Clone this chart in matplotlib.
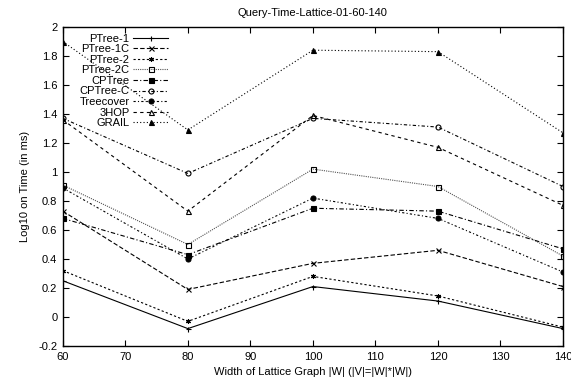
import matplotlib
matplotlib.use("Agg")
import matplotlib.pyplot as plt

plt.rcParams['font.family'] = ['Liberation Sans', 'DejaVu Sans']

widths = [60, 80, 100, 120, 140]

ptree_1 = [0.25, -0.08, 0.21, 0.11, -0.08]
ptree_1c = [0.73, 0.19, 0.37, 0.46, 0.21]
ptree_2 = [0.32, -0.03, 0.28, 0.145, -0.07]
ptree_2c = [0.91, 0.50, 1.02, 0.90, 0.42]
cptree = [0.68, 0.43, 0.75, 0.73, 0.47]
cptree_c = [1.37, 0.99, 1.37, 1.31, 0.90]
treecover = [0.89, 0.40, 0.82, 0.68, 0.31]
hop3 = [1.36, 0.73, 1.39, 1.17, 0.77]
grail = [1.90, 1.29, 1.84, 1.83, 1.27]

# label, values, linestyle, marker, line colour, marker face
series = [
    ('PTree-1', ptree_1, '-', '+', 'k', 'k'),
    ('PTree-1C', ptree_1c, (0, (4, 2)), 'x', 'k', 'k'),
    ('PTree-2', ptree_2, (0, (2, 2)), (6, 2, 0), 'k', 'k'),
    ('PTree-2C', ptree_2c, (0, (1, 1)), 's', '#555555', 'none'),
    ('CPTree', cptree, (0, (4, 2, 1, 2)), 's', 'k', 'k'),
    ('CPTree-C', cptree_c, (0, (3, 2, 1, 2)), 'o', 'k', 'none'),
    ('Treecover', treecover, (0, (2, 2, 1, 2)), 'o', 'k', 'k'),
    ('3HOP', hop3, (0, (3, 3)), '^', 'k', 'none'),
    ('GRAIL', grail, (0, (1, 2)), '^', 'k', 'k'),
]

fig = plt.figure(figsize=(5.71, 3.83), dpi=100)
ax = fig.add_axes([0.110, 0.0966, 0.876, 0.8329])

for label, vals, ls, mk, col, mfc in series:
    ax.plot(widths, vals, linestyle=ls, marker=mk, color=col,
            markerfacecolor=mfc, markeredgecolor='k',
            markersize=3.6, markeredgewidth=0.8, linewidth=0.8, label=label)

ax.set_xlim(60, 140)
ax.set_ylim(-0.2, 2.0)
ax.set_xticks(range(60, 141, 10))
ax.set_yticks([-0.2, 0, 0.2, 0.4, 0.6, 0.8, 1, 1.2, 1.4, 1.6, 1.8, 2])
ax.set_yticklabels(['-0.2', '0', '0.2', '0.4', '0.6', '0.8', '1', '1.2',
                    '1.4', '1.6', '1.8', '2'])
ax.tick_params(direction='in', top=True, right=True, length=4,
               width=0.8, labelsize=8, pad=4)
for s in ax.spines.values():
    s.set_linewidth(1.0)

ax.set_title('Query-Time-Lattice-01-60-140', fontsize=8, pad=8)
ax.set_xlabel('Width of Lattice Graph |W| (|V|=|W|*|W|)', fontsize=8,
              labelpad=4)
ax.set_ylabel('Log10 on Time (in ms)', fontsize=8, labelpad=6)

ax.legend(loc='upper left', bbox_to_anchor=(0.02, 1.0), markerfirst=False,
          frameon=False, fontsize=8, labelspacing=0.05, handlelength=3.2,
          handletextpad=0.3, borderaxespad=0.2)

fig.savefig('out.png', dpi=100)
